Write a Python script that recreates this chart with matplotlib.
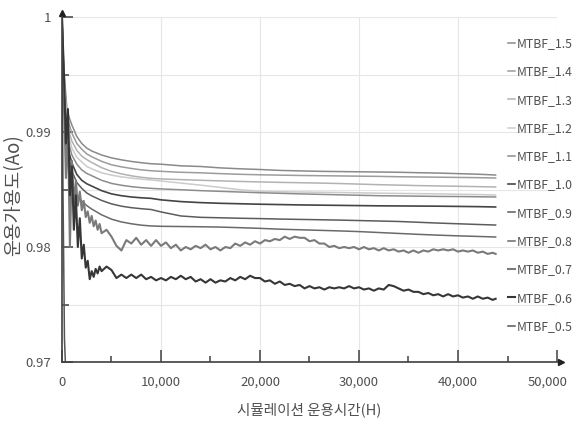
import numpy as np
import matplotlib.pyplot as plt
from matplotlib.ticker import FixedLocator, FuncFormatter

plt.rcParams['font.family'] = ['Noto Sans CJK KR', 'DejaVu Sans']

# simulation hours (smooth series are sampled coarser than the noisy ones)
HOURS_SMOOTH = [0, 100, 250, 500, 750, 1000, 1500, 2000, 2500, 3000, 4000, 5000,
                6000, 7000, 8000, 9000, 10000, 12000, 14000, 16000, 18000, 20000,
                22000, 24000, 26000, 28000, 30000, 32000, 34000, 36000, 38000,
                40000, 42000, 43800]
HOURS_NOISY = list(range(0, 4001, 200)) + list(range(4500, 43501, 500)) + [43800]

MTBF_15 = [1.0, 0.9972, 0.9948, 0.9920, 0.9912, 0.9906, 0.9896, 0.9890, 0.9886, 0.98835,
           0.98800, 0.98775, 0.98758, 0.98744, 0.98733, 0.98724, 0.98720, 0.98706, 0.98700,
           0.98688, 0.98680, 0.98674, 0.98666, 0.98662, 0.98658, 0.98656, 0.98654, 0.98652,
           0.98650, 0.98646, 0.98643, 0.98638, 0.98633, 0.98626]
MTBF_14 = [1.0, 0.9968, 0.9942, 0.9915, 0.9906, 0.9899, 0.9890, 0.9885, 0.9881, 0.98785,
           0.98745, 0.98715, 0.98697, 0.98683, 0.98671, 0.98663, 0.98658, 0.98650, 0.98645,
           0.98638, 0.98632, 0.98628, 0.98625, 0.98622, 0.98620, 0.98618, 0.98616, 0.98614,
           0.98611, 0.98609, 0.98607, 0.98605, 0.98603, 0.98600]
MTBF_13 = [1.0, 0.9965, 0.9938, 0.9910, 0.9899, 0.9892, 0.9884, 0.9879, 0.9876, 0.98735,
           0.98690, 0.98658, 0.98636, 0.98619, 0.98606, 0.98597, 0.98592, 0.98586, 0.98580,
           0.98575, 0.98570, 0.98566, 0.98562, 0.98559, 0.98556, 0.98552, 0.98547, 0.98542,
           0.98538, 0.98534, 0.98531, 0.98528, 0.98525, 0.98522]
MTBF_12 = [1.0, 0.9962, 0.9934, 0.9905, 0.9894, 0.9886, 0.9878, 0.9874, 0.9870, 0.98680,
           0.98645, 0.98625, 0.98610, 0.98599, 0.98590, 0.98583, 0.98574, 0.98556, 0.98538,
           0.98518, 0.98498, 0.98485, 0.98480, 0.98478, 0.98476, 0.98474, 0.98471, 0.98468,
           0.98466, 0.98464, 0.98462, 0.98459, 0.98456, 0.98452]
MTBF_11 = [1.0, 0.9960, 0.9930, 0.9900, 0.9888, 0.9880, 0.9872, 0.9867, 0.9864, 0.98620,
           0.98580, 0.98553, 0.98537, 0.98525, 0.98516, 0.98510, 0.98505, 0.98498, 0.98490,
           0.98484, 0.98478, 0.98472, 0.98467, 0.98462, 0.98458, 0.98454, 0.98450, 0.98446,
           0.98444, 0.98442, 0.98440, 0.98439, 0.98437, 0.98435]
MTBF_10 = [1.0, 0.9958, 0.9926, 0.9895, 0.9881, 0.9873, 0.9863, 0.9858, 0.9855, 0.98530,
           0.98490, 0.98462, 0.98446, 0.98435, 0.98428, 0.98423, 0.98410, 0.98395, 0.98386,
           0.98380, 0.98376, 0.98372, 0.98369, 0.98366, 0.98364, 0.98362, 0.98360, 0.98358,
           0.98357, 0.98356, 0.98355, 0.98353, 0.98351, 0.98348]
MTBF_09 = [1.0, 0.9955, 0.9922, 0.9890, 0.9875, 0.9866, 0.9856, 0.9851, 0.9847, 0.98445,
           0.98405, 0.98375, 0.98355, 0.98342, 0.98333, 0.98326, 0.98305, 0.98270, 0.98258,
           0.98254, 0.98250, 0.98247, 0.98243, 0.98240, 0.98237, 0.98234, 0.98230, 0.98226,
           0.98222, 0.98215, 0.98208, 0.98202, 0.98196, 0.98191]
MTBF_08 = [1.0, 0.9950, 0.9915, 0.9882, 0.9865, 0.9855, 0.9845, 0.9840, 0.9836, 0.98330,
           0.98280, 0.98242, 0.98218, 0.98202, 0.98190, 0.98183, 0.98180, 0.98178, 0.98176,
           0.98173, 0.98168, 0.98162, 0.98155, 0.98150, 0.98145, 0.98140, 0.98134, 0.98126,
           0.98118, 0.98110, 0.98103, 0.98097, 0.98092, 0.98087]
MTBF_05 = [1.0, 0.9850, 0.9720, 0.9665, 0.9660, 0.9658, 0.9655, 0.9652, 0.9650, 0.9648,
           0.9646, 0.9645, 0.9644, 0.9643, 0.9642, 0.9641, 0.9640, 0.9639, 0.9638,
           0.9637, 0.9636, 0.9635, 0.9634, 0.9633, 0.9632, 0.9631, 0.9630, 0.9629,
           0.9628, 0.9627, 0.9626, 0.9625, 0.9624, 0.9623]

MTBF_07 = [1.0, 0.9930, 0.9860, 0.9905, 0.9800, 0.9875, 0.9838, 0.9858, 0.9836, 0.9848,
           0.9832, 0.9840, 0.9826, 0.9831, 0.9821, 0.9827, 0.9818, 0.9823, 0.9815, 0.9820,
           0.9812,
           0.9815, 0.9809, 0.9801, 0.9797, 0.9806, 0.9803, 0.9808, 0.9802, 0.9806, 0.9801,
           0.9806, 0.9801, 0.9804, 0.9799, 0.9802, 0.9797, 0.9800, 0.9798, 0.9801, 0.9799,
           0.9802, 0.9798, 0.9800, 0.9797, 0.9800, 0.9799, 0.9803, 0.9801, 0.9804, 0.9802,
           0.9805, 0.9803, 0.9806, 0.9805, 0.9807, 0.9806, 0.9809, 0.9807, 0.9809, 0.9808,
           0.9808, 0.9805, 0.9806, 0.9803, 0.9803, 0.9800, 0.9801, 0.9799, 0.9800, 0.9799,
           0.9800, 0.9798, 0.9800, 0.9798, 0.9799, 0.9797, 0.9799, 0.9797, 0.9798, 0.9796,
           0.9797, 0.9795, 0.9797, 0.9795, 0.9797, 0.9796, 0.9798, 0.9797, 0.9798, 0.9797,
           0.9798, 0.9796, 0.9797, 0.9796, 0.9797, 0.9795, 0.9796, 0.9794, 0.9795, 0.9794]
MTBF_06 = [1.0, 0.9950, 0.9890, 0.9920, 0.9845, 0.9870, 0.9815, 0.9845, 0.9800, 0.9825,
           0.9790, 0.9802, 0.9782, 0.9788, 0.9772, 0.9779, 0.9774, 0.9781, 0.9777, 0.9783,
           0.9779,
           0.9783, 0.9780, 0.9773, 0.9776, 0.9773, 0.9776, 0.9773, 0.9776, 0.9772, 0.9774,
           0.9771, 0.9773, 0.9771, 0.9774, 0.9772, 0.9775, 0.9772, 0.9774, 0.9770, 0.9772,
           0.9769, 0.9772, 0.9769, 0.9771, 0.9770, 0.9773, 0.9771, 0.9774, 0.9772, 0.9775,
           0.9773, 0.9773, 0.9770, 0.9771, 0.9768, 0.9770, 0.9767, 0.9768, 0.9766, 0.9767,
           0.9764, 0.9766, 0.9764, 0.9765, 0.9763, 0.9765, 0.9764, 0.9765, 0.9764, 0.9766,
           0.9764, 0.9765, 0.9763, 0.9764, 0.9762, 0.9764, 0.9763, 0.9767, 0.9766, 0.9764,
           0.9762, 0.9763, 0.9761, 0.9761, 0.9759, 0.9760, 0.9758, 0.9759, 0.9757, 0.9759,
           0.9757, 0.9758, 0.9756, 0.9757, 0.9755, 0.9757, 0.9755, 0.9756, 0.9754, 0.9755]

LABELS = ['MTBF_1.5', 'MTBF_1.4', 'MTBF_1.3', 'MTBF_1.2', 'MTBF_1.1', 'MTBF_1.0',
          'MTBF_0.9', 'MTBF_0.8', 'MTBF_0.7', 'MTBF_0.6', 'MTBF_0.5']
X_TICKS = [0, 10000, 20000, 30000, 40000, 50000]

series = [
    (HOURS_SMOOTH, MTBF_15, '#8a8a8a', 1.1),
    (HOURS_SMOOTH, MTBF_14, '#9c9c9c', 1.1),
    (HOURS_SMOOTH, MTBF_13, '#b2b2b2', 1.1),
    (HOURS_SMOOTH, MTBF_12, '#cbcbcb', 1.1),
    (HOURS_SMOOTH, MTBF_11, '#8c8c8c', 1.1),
    (HOURS_SMOOTH, MTBF_10, '#444444', 1.2),
    (HOURS_SMOOTH, MTBF_09, '#5c5c5c', 1.1),
    (HOURS_SMOOTH, MTBF_08, '#6a6a6a', 1.1),
    (HOURS_NOISY, MTBF_07, '#7a7a7a', 1.5),
    (HOURS_NOISY, MTBF_06, '#363636', 1.5),
    (HOURS_SMOOTH, MTBF_05, '#555555', 1.1),
]

TXT = '#505050'
AX = '#404040'

fig = plt.figure(figsize=(5.75, 4.23), dpi=100)
ax = fig.add_axes([0.1078, 0.1442, 0.8609, 0.8156])

for (hours, vals, col, lw), lab in zip(series, LABELS):
    ax.plot(hours, vals, color=col, lw=lw, label=lab)

ax.set_xlim(0, 50000)
ax.set_ylim(0.97, 1.0)

ax.xaxis.set_major_locator(FixedLocator(X_TICKS))
ax.xaxis.set_minor_locator(FixedLocator([5000, 15000, 25000, 35000, 45000]))
ax.yaxis.set_major_locator(FixedLocator([0.97, 0.98, 0.99, 1.0]))
ax.yaxis.set_minor_locator(FixedLocator([0.975, 0.985, 0.995]))
# last x label is drawn separately, pulled in from the figure edge
ax.xaxis.set_major_formatter(FuncFormatter(
    lambda v, p: '' if v >= X_TICKS[-1] else f'{int(v):,}'))
ax.yaxis.set_major_formatter(FuncFormatter(lambda v, p: '1' if v >= 0.9999 else f'{v:.2f}'))

ax.tick_params(axis='both', which='both', direction='in', colors=AX, labelcolor=TXT,
               labelsize=9.5)
ax.tick_params(axis='x', which='major', length=9, width=1.1, pad=10)
ax.tick_params(axis='x', which='minor', length=4, width=1.1)
ax.tick_params(axis='y', which='major', length=8, width=1.1, pad=8)
ax.tick_params(axis='y', which='minor', length=5, width=1.1)
for t in ax.get_xticklabels() + ax.get_yticklabels():
    t.set_fontweight('medium')

ax.annotate(f'{X_TICKS[-1]:,}', xy=(X_TICKS[-1], 0.97), xytext=(-7, -10),
            textcoords='offset points', ha='center', va='top', fontsize=9.5,
            fontweight='medium', color=TXT, annotation_clip=False)

# light grid at every 10,000 h and every 0.005
for gx in [10000, 20000, 30000, 40000, 50000]:
    ax.axvline(gx, color='#e6e6e6', lw=0.8, zorder=0)
for gy in [0.975, 0.98, 0.985, 0.99, 0.995, 1.0]:
    ax.axhline(gy, color='#e6e6e6', lw=0.8, zorder=0)

for s in ['top', 'right']:
    ax.spines[s].set_visible(False)
for s in ['left', 'bottom']:
    ax.spines[s].set_color(AX)
    ax.spines[s].set_linewidth(1.2)

# arrow heads on both axes
ax.plot([0], [1.012], marker='^', ms=4, color='#222222', transform=ax.transAxes,
        clip_on=False)
ax.plot([1.008], [0], marker='>', ms=4, color='#222222', transform=ax.transAxes,
        clip_on=False)

ax.set_xlabel('시뮬레이션 운용시간(H)', fontsize=10.5, color=TXT, labelpad=10)
ax.set_ylabel('운용가용도(Ao)', fontsize=13.5, color=TXT)
ax.yaxis.set_label_coords(-0.076, 0.485)

leg = ax.legend(loc='center left', bbox_to_anchor=(508 / 575, 1 - 185 / 423),
                bbox_transform=fig.transFigure, frameon=False, fontsize=8.8,
                handlelength=0.55, handletextpad=0.2, labelspacing=1.25,
                borderpad=0, borderaxespad=0)
for t in leg.get_texts():
    t.set_color(TXT)
    t.set_fontweight('medium')

fig.savefig('out.png', dpi=100)
